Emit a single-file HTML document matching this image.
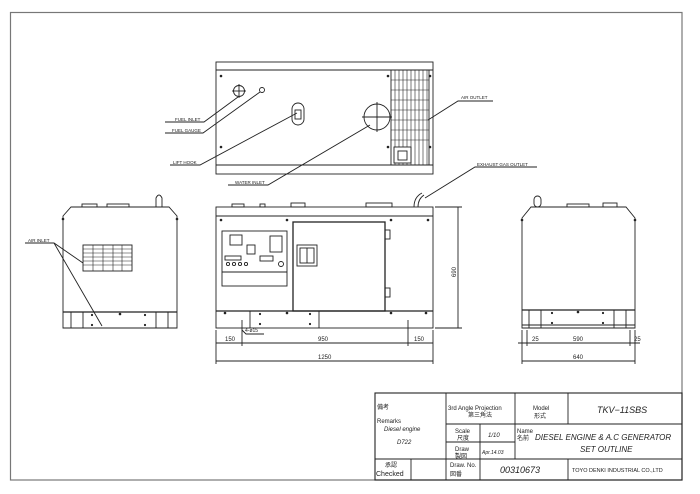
<!DOCTYPE html>
<html><head><meta charset="utf-8"><style>
html,body{margin:0;padding:0;background:#fff;}
svg{display:block;}
text{font-family:"Liberation Sans","Noto Sans CJK JP",sans-serif;fill:#222;}
</style></head><body>
<svg width="700" height="494" viewBox="0 0 700 494" xmlns="http://www.w3.org/2000/svg">
<g fill="none" stroke="#222" stroke-width="0.9">
<rect x="10.5" y="12.5" width="671.5" height="467.5" stroke="#777" stroke-width="1.2"/>
<!-- TOP VIEW -->
<rect x="216" y="62" width="217" height="112"/>
<line x1="216" y1="70" x2="433" y2="70"/>
<line x1="216" y1="165" x2="433" y2="165"/>
<rect x="391" y="70" width="38" height="95"/>
<g stroke-width="0.6">
<line x1="395" y1="70" x2="395" y2="165"/><line x1="399" y1="70" x2="399" y2="165"/><line x1="403" y1="70" x2="403" y2="165"/><line x1="407" y1="70" x2="407" y2="165"/><line x1="411" y1="70" x2="411" y2="165"/><line x1="415" y1="70" x2="415" y2="165"/><line x1="419" y1="70" x2="419" y2="165"/><line x1="423" y1="70" x2="423" y2="165"/><line x1="427" y1="70" x2="427" y2="165"/>
<line x1="391" y1="80" x2="429" y2="80"/><line x1="391" y1="90" x2="429" y2="90"/><line x1="391" y1="100" x2="429" y2="100"/><line x1="391" y1="110" x2="429" y2="110"/><line x1="391" y1="120" x2="429" y2="120"/><line x1="391" y1="130" x2="429" y2="130"/><line x1="391" y1="140" x2="429" y2="140"/>
</g>
<rect x="394" y="147" width="17" height="16" fill="#fff"/>
<rect x="398" y="151" width="9" height="9"/>
<circle cx="239" cy="91" r="5.5"/><line x1="232" y1="91" x2="246" y2="91"/><line x1="239" y1="84" x2="239" y2="98"/>
<circle cx="262" cy="90" r="2.5"/>
<rect x="292" y="103" width="12" height="22" rx="6"/><rect x="295" y="110" width="6" height="9"/>
<circle cx="377" cy="117" r="13"/><line x1="362" y1="117" x2="392" y2="117"/><line x1="377" y1="102" x2="377" y2="132"/>
<polyline points="165,122 204,122 238,97"/>
<polyline points="165,133 203,133 260,92"/>
<polyline points="170,165 200,165 297,113"/>
<polyline points="228,185 268,185 370,125"/>
<polyline points="493,101 458,101 428,120"/>
<polyline points="537,167 475,167 425,198"/>
<!-- FRONT VIEW -->
<rect x="216" y="207" width="217" height="121"/>
<line x1="216" y1="216" x2="433" y2="216"/>
<line x1="216" y1="311" x2="433" y2="311" stroke-width="1.2"/>
<line x1="250" y1="311" x2="250" y2="328"/><line x1="319" y1="311" x2="319" y2="328"/>
<rect x="293" y="222" width="92" height="89" stroke-width="1.3"/>
<rect x="297" y="245" width="20" height="21"/><rect x="300" y="248" width="14" height="15"/><line x1="307" y1="248" x2="307" y2="263"/>
<rect x="385" y="230" width="5" height="9"/><rect x="385" y="288" width="5" height="9"/>
<rect x="222" y="231" width="65" height="55"/><line x1="222" y1="272" x2="287" y2="272"/>
<rect x="230" y="235" width="12" height="10"/><rect x="247" y="245" width="8" height="9"/><rect x="260" y="256" width="13" height="5"/><rect x="225" y="256" width="16" height="4"/>
<circle cx="228" cy="264" r="1.6"/><circle cx="234" cy="264" r="1.6"/><circle cx="240" cy="264" r="1.6"/><circle cx="246" cy="264" r="1.6"/>
<circle cx="281" cy="264" r="2.5"/><rect x="270" y="236" width="12" height="16"/>
<rect x="232" y="204" width="12" height="3"/><rect x="260" y="204" width="5" height="3"/><rect x="291" y="203" width="14" height="4"/><rect x="366" y="203" width="26" height="4"/>
<path d="M414 207 q0 -10 8 -14"/><path d="M418 207 q0 -8 6 -12"/>
<line x1="216" y1="330" x2="216" y2="364"/><line x1="433" y1="330" x2="433" y2="364"/>
<line x1="242" y1="320" x2="242" y2="346"/><line x1="408" y1="320" x2="408" y2="346"/>
<line x1="216" y1="343" x2="433" y2="343"/><line x1="216" y1="361" x2="433" y2="361"/>
<line x1="435" y1="207" x2="462" y2="207"/><line x1="435" y1="328" x2="462" y2="328"/>
<line x1="458" y1="207" x2="458" y2="328"/>
<polyline points="242,330 246,334 264,334"/>
<!-- LEFT VIEW -->
<path d="M63 328 V216 L71 207 H169 L177 216 V328 Z"/>
<line x1="63" y1="312" x2="177" y2="312" stroke-width="1.2"/>
<line x1="71" y1="312" x2="71" y2="328"/><line x1="83" y1="312" x2="83" y2="328"/><line x1="156" y1="312" x2="156" y2="328"/><line x1="168" y1="312" x2="168" y2="328"/>
<rect x="83" y="245" width="49" height="26"/>
<g stroke-width="0.6"><line x1="93" y1="245" x2="93" y2="271"/><line x1="103" y1="245" x2="103" y2="271"/><line x1="113" y1="245" x2="113" y2="271"/><line x1="122" y1="245" x2="122" y2="271"/>
<line x1="83" y1="249" x2="132" y2="249"/><line x1="83" y1="253" x2="132" y2="253"/><line x1="83" y1="257" x2="132" y2="257"/><line x1="83" y1="261" x2="132" y2="261"/><line x1="83" y1="265" x2="132" y2="265"/></g>
<path d="M156 207 V198 q3 -6 6 0 V207"/><rect x="82" y="204" width="15" height="3"/><rect x="107" y="204" width="22" height="3"/>
<polyline points="25,243 54,243 83,263"/><line x1="54" y1="243" x2="102" y2="326"/>
<!-- RIGHT VIEW -->
<path d="M522 328 V218 L531 207 H626 L635 218 V328 Z"/>
<line x1="522" y1="310" x2="635" y2="310" stroke-width="1.2"/><line x1="522" y1="325" x2="635" y2="325"/>
<line x1="529" y1="310" x2="529" y2="328"/><line x1="541" y1="310" x2="541" y2="328"/><line x1="614" y1="310" x2="614" y2="328"/><line x1="626" y1="310" x2="626" y2="328"/>
<rect x="534" y="196" width="7" height="11" rx="3.5"/><rect x="567" y="204" width="22" height="3"/><rect x="603" y="203" width="14" height="4"/>
<line x1="522" y1="330" x2="522" y2="364"/><line x1="635" y1="330" x2="635" y2="364"/>
<line x1="527" y1="330" x2="527" y2="346"/><line x1="630" y1="330" x2="630" y2="346"/>
<line x1="518" y1="343" x2="640" y2="343"/><line x1="522" y1="361" x2="635" y2="361"/>
<!-- TITLE BLOCK -->
<rect x="375" y="393" width="307" height="87" stroke-width="1.1"/>
<line x1="446" y1="393" x2="446" y2="480"/><line x1="515" y1="393" x2="515" y2="424"/><line x1="568" y1="393" x2="568" y2="424"/>
<line x1="446" y1="424" x2="682" y2="424"/><line x1="446" y1="442" x2="515" y2="442"/>
<line x1="375" y1="459" x2="682" y2="459"/><line x1="480" y1="424" x2="480" y2="480"/><line x1="515" y1="424" x2="515" y2="459"/>
<line x1="568" y1="459" x2="568" y2="480"/><line x1="411" y1="459" x2="411" y2="480"/>
</g>
<g fill="#222">
<circle cx="221" cy="76" r="1.3"/><circle cx="221" cy="147" r="1.3"/><circle cx="388" cy="76" r="1.3"/><circle cx="388" cy="147" r="1.3"/><circle cx="430" cy="76" r="1.3"/><circle cx="430" cy="147" r="1.3"/>
<circle cx="221" cy="220" r="1.3"/><circle cx="287" cy="220" r="1.3"/><circle cx="391" cy="220" r="1.3"/><circle cx="428" cy="220" r="1.3"/>
<circle cx="225" cy="313" r="1.3"/><circle cx="287" cy="313" r="1.3"/><circle cx="391" cy="313" r="1.3"/><circle cx="426" cy="313" r="1.3"/>
<circle cx="260" cy="314" r="1.1"/><circle cx="260" cy="324" r="1.1"/><circle cx="310" cy="314" r="1.1"/><circle cx="310" cy="324" r="1.1"/>
<circle cx="63" cy="219" r="1.3"/><circle cx="177" cy="219" r="1.3"/><circle cx="92" cy="315" r="1.1"/><circle cx="92" cy="325" r="1.1"/><circle cx="145" cy="315" r="1.1"/><circle cx="145" cy="325" r="1.1"/><circle cx="120" cy="314" r="1.3"/>
<circle cx="522" cy="220" r="1.3"/><circle cx="635" cy="220" r="1.3"/><circle cx="552" cy="313" r="1.1"/><circle cx="552" cy="323" r="1.1"/><circle cx="603" cy="313" r="1.1"/><circle cx="603" cy="323" r="1.1"/><circle cx="578" cy="312" r="1.3"/>
</g>
<g font-size="4.5">
<text x="175" y="121">FUEL INLET</text><text x="172" y="132">FUEL GAUGE</text><text x="173" y="164">LIFT HOOK</text>
<text x="235" y="184">WATER INLET</text><text x="461" y="99">AIR OUTLET</text><text x="477" y="166">EXHAUST GAS OUTLET</text>
<text x="28" y="242">AIR INLET</text>
</g>
<g font-size="6">
<text x="225" y="341">150</text><text x="318" y="341">950</text><text x="414" y="341">150</text>
<text x="318" y="359">1250</text><text x="245" y="332" font-size="5">4-ø15</text>
<text x="456" y="277" transform="rotate(-90 456 277)">690</text>
<text x="532" y="341">25</text><text x="573" y="341">590</text><text x="634" y="341">25</text><text x="573" y="359">640</text>
</g>
<g font-size="6">
<text x="377" y="409">備考</text><text x="377" y="423">Remarks</text>
<text x="384" y="431" font-style="italic" font-family="Liberation Serif">Diesel engine</text>
<text x="397" y="444" font-style="italic" font-family="Liberation Serif">D722</text>
<text x="448" y="410">3rd Angle Projection</text><text x="468" y="417">第三角法</text>
<text x="533" y="410">Model</text><text x="534" y="418">形式</text>
<text x="597" y="413" font-size="9" font-style="italic" font-family="Liberation Serif">TKV−11SBS</text>
<text x="455" y="433">Scale</text><text x="457" y="440">尺度</text><text x="488" y="437" font-style="italic">1/10</text>
<text x="455" y="451">Draw</text><text x="455" y="458">製図</text><text x="482" y="454" font-size="5" font-style="italic">Apr.14.03</text>
<text x="517" y="433">Name</text><text x="517" y="440">名前</text>
<text x="535" y="440" font-size="8" font-style="italic" font-family="Liberation Serif">DIESEL ENGINE &amp; A.C GENERATOR</text>
<text x="580" y="452" font-size="8" font-style="italic" font-family="Liberation Serif">SET OUTLINE</text>
<text x="385" y="467">承認</text><text x="376" y="476" font-size="7">Checked</text>
<text x="450" y="467">Draw. No.</text><text x="450" y="476">図番</text>
<text x="500" y="473" font-size="9" font-style="italic">00310673</text>
<text x="572" y="472" font-size="5.5" font-family="Liberation Serif">TOYO DENKI INDUSTRIAL CO.,LTD</text>
</g>
</svg>
</body></html>
